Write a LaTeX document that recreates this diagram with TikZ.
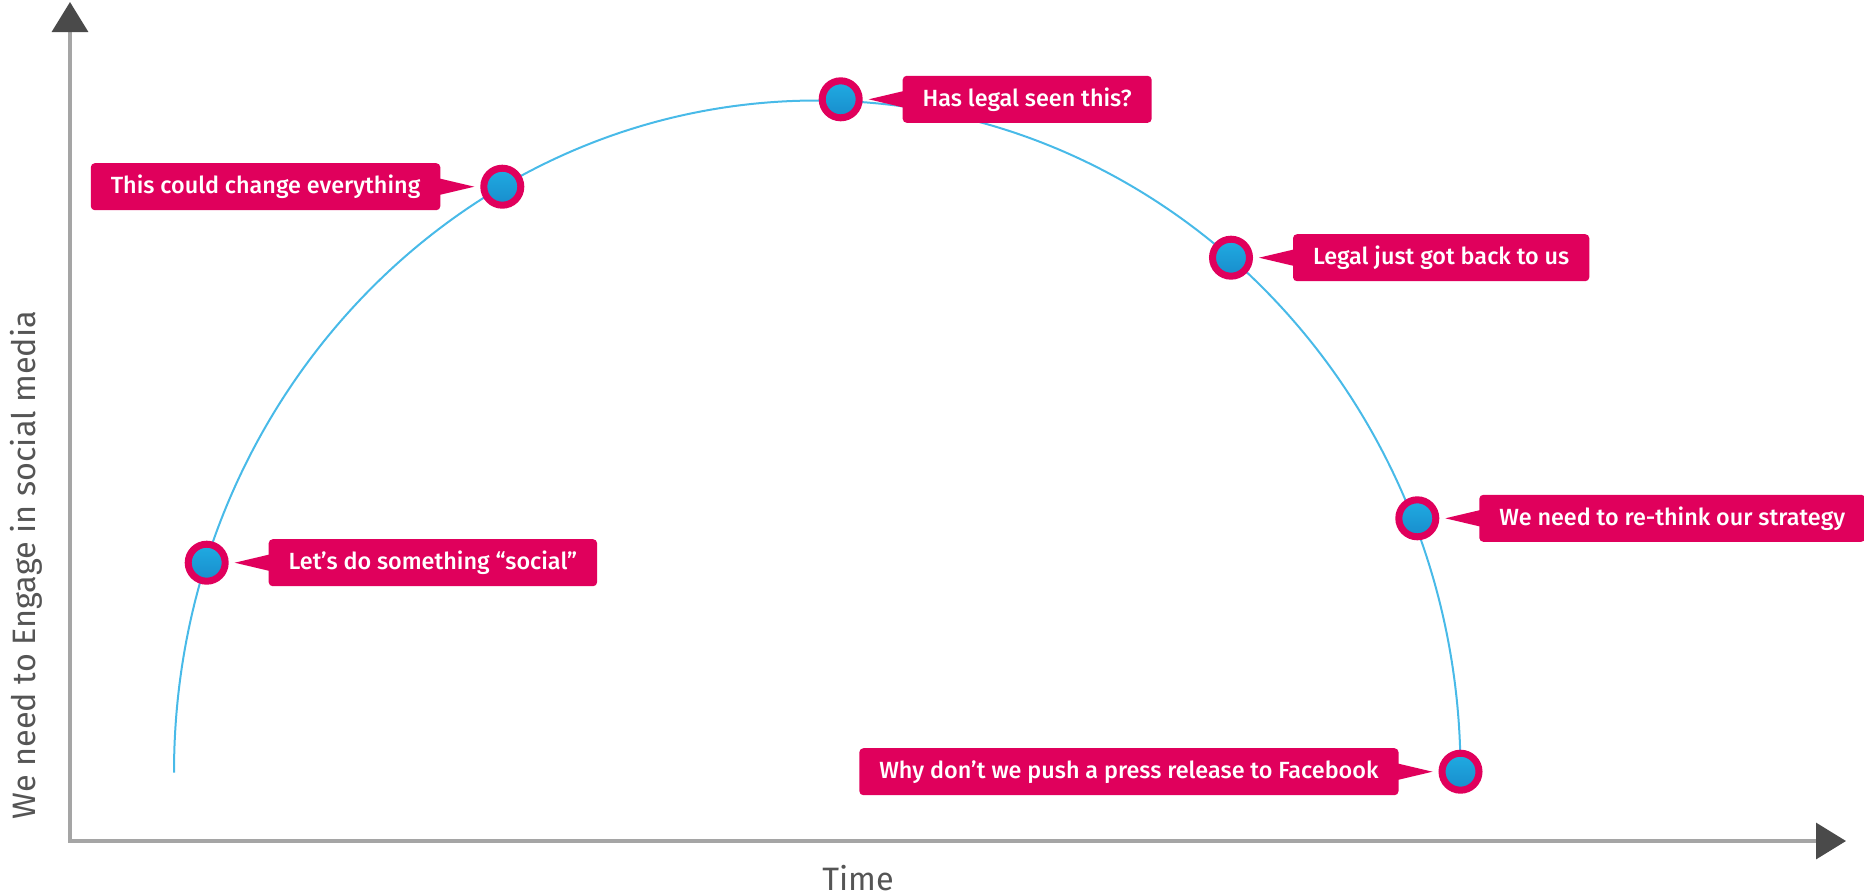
\documentclass[tikz,border=0pt]{standalone}
\usepackage{fontspec}
\setmainfont{Fira Sans}
\newfontfamily\calloutfont{Fira Sans Medium}
\usepackage{tikz}
\usetikzlibrary{arrows.meta,positioning}
\definecolor{hotpink}{RGB}{224,0,92}
\definecolor{dotlight}{RGB}{32,172,226}
\definecolor{dotdark}{RGB}{24,140,204}
\definecolor{arcblue}{RGB}{72,186,232}
\definecolor{axisgray}{RGB}{165,165,165}
\definecolor{tipgray}{RGB}{74,74,74}
\definecolor{labelgray}{RGB}{85,85,85}
\tikzset{
  axis/.style={draw=axisgray,line width=1.65pt,line join=miter,
    {Triangle[length=15pt,width=18pt,color=tipgray]}-{Triangle[length=15pt,width=18pt,color=tipgray]}},
  curve/.style={draw=arcblue,line width=1pt},
  dot/.style={circle,draw=hotpink,line width=3.5pt,minimum size=18.5pt,inner sep=0pt,
    top color=dotlight,bottom color=dotdark},
  callbox/.style={fill=hotpink,rounded corners=2pt,text=white,inner xsep=10pt,inner ysep=0pt,
    minimum height=23.5pt,outer sep=0pt,font=\calloutfont\fontsize{11.7}{14}\selectfont},
  axlabel/.style={text=labelgray,inner sep=0pt,font=\fontsize{16.2}{19}\selectfont},
}

\begin{document}
\begin{tikzpicture}[x=0.5pt,y=-0.5pt,node distance=20pt]
  \useasboundingbox (0,0) rectangle (1864,895);
  \coordinate (ytop) at (70,2);
  \coordinate (xend) at (1846,841);
  \coordinate (start) at (174,772.5);
  \draw[axis] (ytop) |- (xend);
  \node[axlabel,anchor=base,rotate=90] (ylab) at (35.5,565) {We need to Engage in social media};
  \node[axlabel,anchor=base] (xlab) at (858,890) {Time};
  % the hype curve
  \draw[curve] (start) arc[start angle=180,end angle=360,x radius=643.25,y radius=672];
  \node[dot] (d1) at (206.7,562.7) {};
  \node[dot] (d2) at (502.3,186.7) {};
  \node[dot] (d3) at (840.7,99.3) {};
  \node[dot] (d4) at (1231,257.7) {};
  \node[dot] (d5) at (1417.3,518.3) {};
  \node[dot] (d6) at (1460.5,771.7) {};
  \node[callbox,right=of d1] (c1) {Let’s do something “social”};
  \node[callbox,left=of d2] (c2) {This could change everything};
  \node[callbox,right=of d3] (c3) {Has legal seen this?};
  \node[callbox,right=of d4] (c4) {Legal just got back to us};
  \node[callbox,right=of d5,minimum width=193pt] (c5) {We need to re-think our strategy};
  \node[callbox,left=of d6] (c6) {Why don’t we push a press release to Facebook};
  \foreach \i/\a/\b/\s in {1/east/west/1,2/west/east/-1,3/east/west/1,
      4/east/west/1,5/east/west/1,6/west/east/-1}
    \fill[hotpink] ([xshift=\s*1pt,yshift=4.25pt]c\i.\b) -- ([xshift=\s*3pt]d\i.\a)
      -- ([xshift=\s*1pt,yshift=-4.25pt]c\i.\b) -- cycle;
\end{tikzpicture}
\end{document}
